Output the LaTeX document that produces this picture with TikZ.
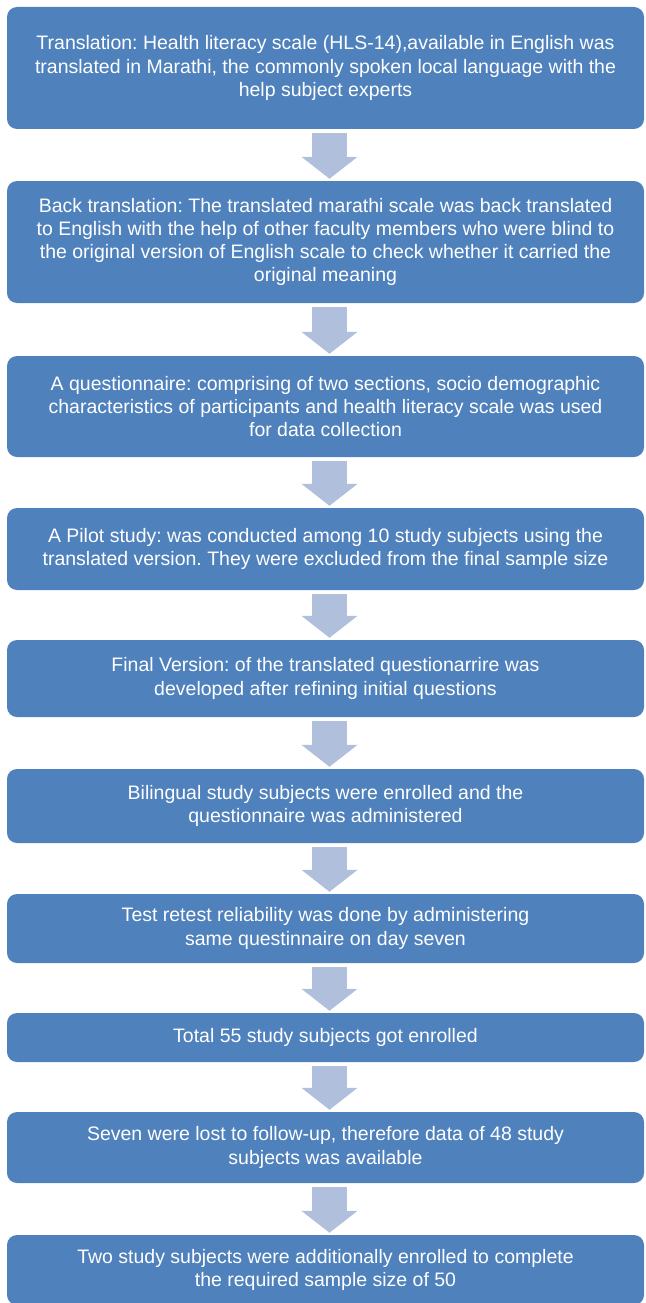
\documentclass[tikz,border=0pt]{standalone}
\usepackage{fontspec}
\setmainfont{Liberation Sans}
\frenchspacing
\usetikzlibrary{arrows.meta}
\definecolor{boxblue}{RGB}{79,129,189}
\definecolor{arrblue}{RGB}{176,192,220}
\tikzset{
  flowbox/.style={draw=none, fill=boxblue, rounded corners=10pt, text=white,
    minimum width=637pt, align=center, inner sep=0pt,
    font=\fontsize{19.5}{23.2}\selectfont},
  flowarrow/.style={draw=arrblue, line width=35pt, line cap=butt,
    -{Triangle[width=55pt,length=22pt]}}
}
\begin{document}
\begin{tikzpicture}[x=1pt,y=1pt]
\useasboundingbox (0,0) rectangle (645,-1303);
\begin{scope}
\clip (0,0) rectangle (645,-1303);
\node[flowbox, minimum height=122pt] (b1) at (325.5,-68) {Translation: Health literacy scale (HLS-14),available in English was\\translated in Marathi, the commonly spoken local language with the\\help subject experts};
\node[flowbox, minimum height=122pt] (b2) at (325.5,-242) {Back translation: The translated marathi scale was back translated\\to English with the help of other faculty members who were blind to\\the original version of English scale to check whether it carried the\\original meaning};
\node[flowbox, minimum height=101pt] (b3) at (325.5,-406.5) {A questionnaire: comprising of two sections, socio demographic\\characteristics of participants and health literacy scale was used\\for data collection};
\node[flowbox, minimum height=82pt] (b4) at (325.5,-549) {A Pilot study: was conducted among 10 study subjects using the\\translated version. They were excluded from the final sample size};
\node[flowbox, minimum height=77pt] (b5) at (325.5,-678.5) {Final Version: of the translated questionarrire was\\developed after refining initial questions};
\node[flowbox, minimum height=74pt] (b6) at (325.5,-806) {Bilingual study subjects were enrolled and the\\questionnaire was administered};
\node[flowbox, minimum height=69pt] (b7) at (325.5,-928.5) {Test retest reliability was done by administering\\same questinnaire on day seven};
\node[flowbox, minimum height=49pt] (b8) at (325.5,-1037.5) {Total 55 study subjects got enrolled};
\node[flowbox, minimum height=71pt] (b9) at (325.5,-1147.5) {Seven were lost to follow-up, therefore data of 48 study\\subjects was available};
\node[flowbox, minimum height=70pt] (b10) at (325.5,-1270) {Two study subjects were additionally enrolled to complete\\the required sample size of 50};
\end{scope}
\foreach \a/\b in {b1/b2,b2/b3,b3/b4,b4/b5,b5/b6,b6/b7,b7/b8,b8/b9,b9/b10}{
  \draw[flowarrow] ([shift={(4,-4)}]\a.south) -- ([shift={(4,2)}]\b.north);
}
\end{tikzpicture}
\end{document}
